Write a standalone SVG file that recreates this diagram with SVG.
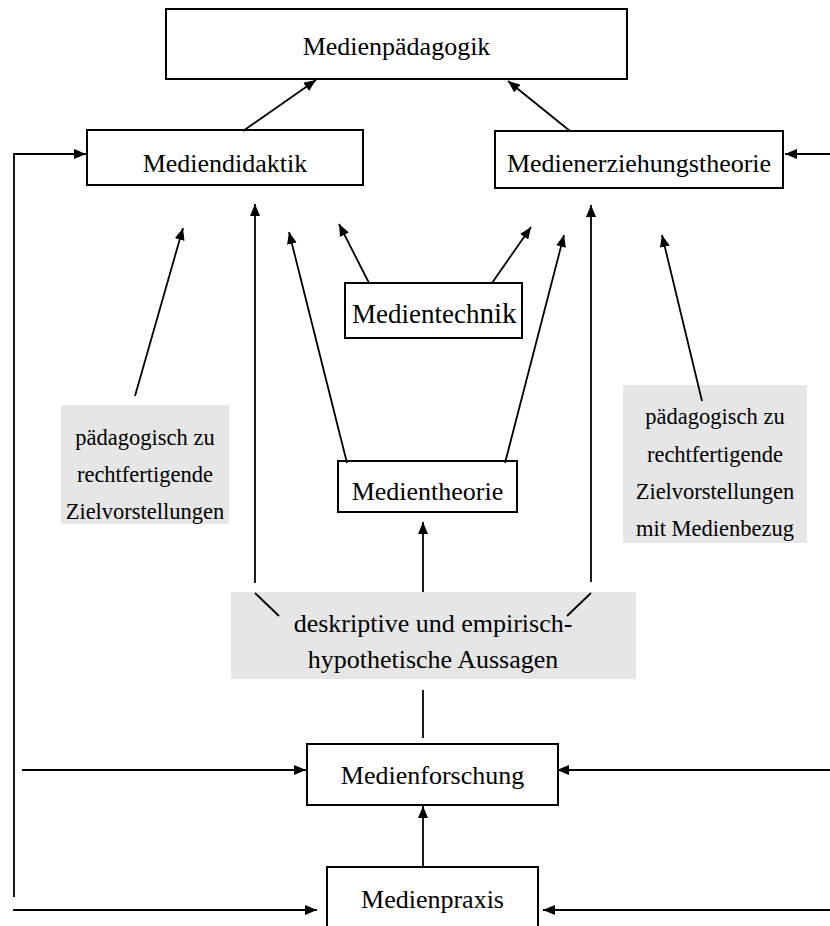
<svg xmlns="http://www.w3.org/2000/svg" width="830" height="926" viewBox="0 0 830 926">
<style>
.box{fill:#fff;stroke:#000;stroke-width:2}
.gray{fill:#e6e6e6;stroke:none}
.t{font-family:"Liberation Serif","Times New Roman",serif;font-size:26px;fill:#000;text-anchor:middle}
.s{font-family:"Liberation Serif","Times New Roman",serif;font-size:22.5px;fill:#000;text-anchor:middle}
.c{fill:none;stroke:#000;stroke-width:1.8}
.a{marker-end:url(#ah)}
</style>
<defs>
<marker id="ah" markerUnits="userSpaceOnUse" markerWidth="12" markerHeight="10" refX="12" refY="5" orient="auto">
<path d="M0,0 L12,5 L0,10 z" fill="#000"/>
</marker>
</defs>
<rect width="830" height="926" fill="#fff"/>
<g id="medienpaedagogik">
<rect class="box" x="166" y="9" width="461" height="70"/>
<text class="t" x="396.5" y="55">Medienpädagogik</text>
</g>
<g id="mediendidaktik">
<rect class="box" x="87" y="130" width="276" height="55"/>
<text class="t" x="225" y="172">Mediendidaktik</text>
</g>
<g id="medienerziehungstheorie">
<rect class="box" x="495" y="131" width="288" height="57"/>
<text class="t" x="639" y="172">Medienerziehungstheorie</text>
</g>
<g id="medientechnik">
<rect class="box" x="345" y="283" width="177" height="55"/>
<text x="352" y="323" font-family="'Liberation Serif','Times New Roman',serif" font-size="27">Medientech<tspan font-size="29">nik</tspan></text>
</g>
<g id="medientheorie">
<rect class="box" x="338" y="461" width="179" height="51"/>
<text class="t" x="427.5" y="500">Medientheorie</text>
</g>
<g id="ziel-links">
<rect class="gray" x="61" y="405" width="168" height="119"/>
<text class="s" x="145" y="445">pädagogisch zu</text>
<text class="s" x="145" y="482">rechtfertigende</text>
<text class="s" x="145" y="519">Zielvorstellungen</text>
</g>
<g id="ziel-rechts">
<rect class="gray" x="623" y="385" width="184" height="158"/>
<text class="s" x="715" y="424">pädagogisch zu</text>
<text class="s" x="715" y="462">rechtfertigende</text>
<text class="s" x="715" y="499">Zielvorstellungen</text>
<text class="s" x="715" y="536">mit Medienbezug</text>
</g>
<g id="aussagen">
<rect class="gray" x="231" y="592" width="405" height="87"/>
<text class="t" x="433" y="632">deskriptive und empirisch-</text>
<text class="t" x="433" y="668">hypothetische Aussagen</text>
</g>
<g id="medienforschung">
<rect class="box" x="307" y="744" width="251" height="61"/>
<text class="t" x="432.5" y="784">Medienforschung</text>
</g>
<g id="medienpraxis">
<rect class="box" x="327" y="867" width="211" height="70"/>
<text class="t" x="432.5" y="908">Medienpraxis</text>
</g>
<g id="connectors">
<line class="c a" x1="243" y1="131" x2="316" y2="80"/>
<line class="c a" x1="570" y1="131" x2="508" y2="81"/>
<polyline class="c a" points="14,897 14,154 86,154"/>
<line class="c a" x1="830" y1="154" x2="785" y2="154"/>
<line class="c a" x1="135" y1="396" x2="183" y2="228"/>
<line class="c a" x1="255" y1="583" x2="255" y2="204"/>
<line class="c" x1="255" y1="593" x2="279" y2="616"/>
<line class="c a" x1="347" y1="463" x2="289" y2="232"/>
<line class="c a" x1="369" y1="283" x2="339" y2="224"/>
<line class="c a" x1="492" y1="283" x2="531" y2="227"/>
<line class="c a" x1="505" y1="463" x2="564" y2="235"/>
<line class="c a" x1="591" y1="582" x2="591" y2="205"/>
<line class="c" x1="591" y1="593" x2="567" y2="616"/>
<line class="c a" x1="702" y1="401" x2="662" y2="235"/>
<line class="c a" x1="423" y1="592" x2="423" y2="522"/>
<line class="c" x1="423" y1="690" x2="423" y2="738"/>
<line class="c a" x1="22" y1="770" x2="306" y2="770"/>
<line class="c a" x1="830" y1="770" x2="557" y2="770"/>
<line class="c a" x1="423" y1="868" x2="423" y2="806"/>
<line class="c a" x1="13" y1="910" x2="317" y2="910"/>
<line class="c a" x1="830" y1="910" x2="543" y2="910"/>
</g>
</svg>
